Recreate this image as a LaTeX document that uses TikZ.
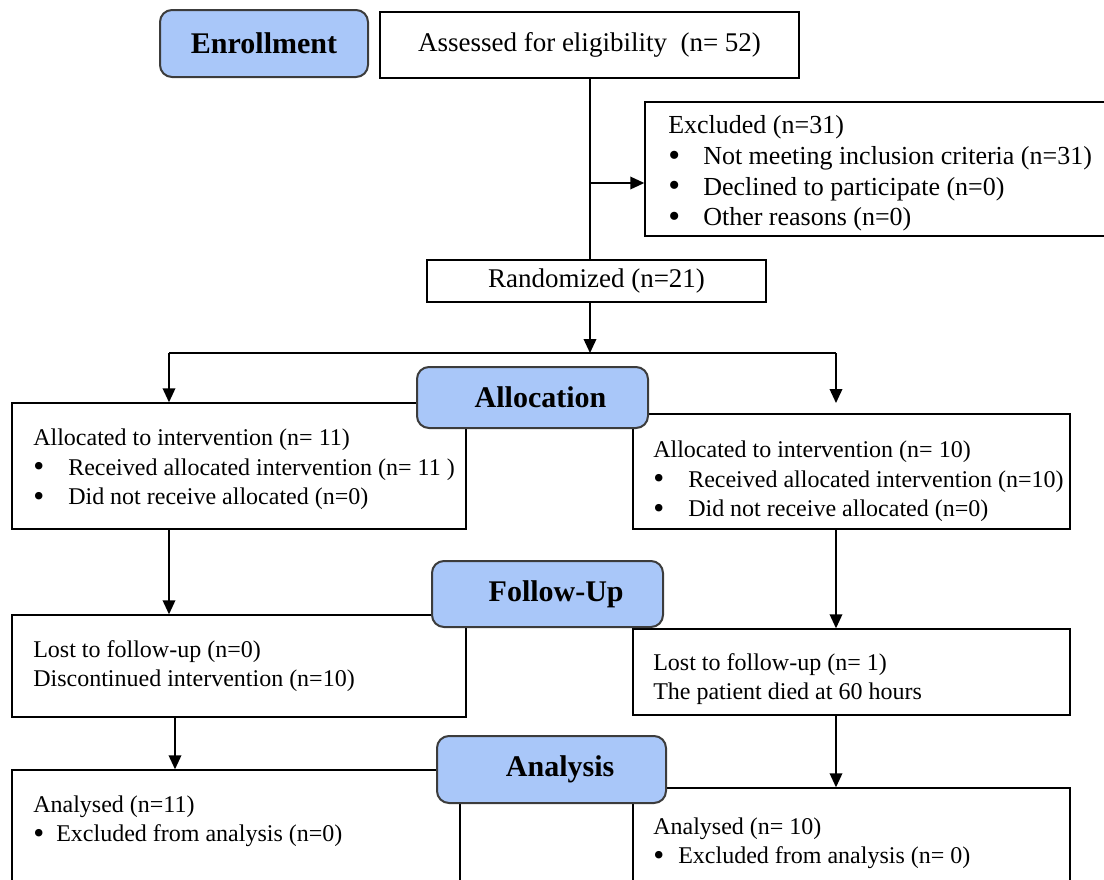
\documentclass[tikz,border=0pt]{standalone}
\usepackage{fontspec}
\setmainfont{Liberation Serif}
\usepackage{xcolor}
\usetikzlibrary{arrows.meta}
\definecolor{hdrblue}{HTML}{A9C7F9}
\definecolor{hdrline}{HTML}{3C3C3C}
\newcommand{\blt}[1]{\makebox[#1][l]{\raisebox{-1.2pt}{\scalebox{1.3}{\textbullet}}}}
\newcommand{\bodyfont}{\fontsize{18}{22}\selectfont}
\tikzset{
  flowbox/.style  = {draw,line width=1.1pt,fill=white,inner sep=0pt},
  headbox/.style  = {draw=hdrline,line width=1.5pt,fill=hdrblue,rounded corners=9pt,
                     inner sep=0pt,font=\fontsize{22.5}{27}\selectfont\bfseries},
  boxtext/.style  = {anchor=west,inner sep=0pt,align=left,font=\bodyfont},
  flowline/.style = {line width=1.1pt},
  flowarr/.style  = {-{Triangle[length=10.5pt,width=9.5pt]},line width=1.1pt}
}

\begin{document}
\begin{tikzpicture}[x=0.75pt,y=-0.75pt]
  \useasboundingbox (0,0) rectangle (1104,879);
  \clip (0,0) rectangle (1104,879);
  \node[flowbox,minimum width=314.25pt,minimum height=49.5pt,font=\fontsize{20.25}{24}\selectfont]
    (assess) at (589.5,45) {\raisebox{-2pt}{Assessed for eligibility~ (n= 52)}};
  \node[flowbox,minimum width=352.5pt,minimum height=100.5pt] (excl) at (880,169) {};
  \node[flowbox,minimum width=254.25pt,minimum height=31.5pt,font=\fontsize{20.25}{24}\selectfont]
    (rand) at (596.5,281) {Randomized (n=21)};
  \node[flowbox,minimum width=340.5pt,minimum height=94.5pt] (alloL) at (239,466) {};
  \node[flowbox,minimum width=327.75pt,minimum height=86.25pt] (alloR) at (851.5,471.5) {};
  \node[flowbox,minimum width=340.5pt,minimum height=76.5pt] (fupL) at (239,666) {};
  \node[flowbox,minimum width=327.75pt,minimum height=64.5pt] (fupR) at (851.5,672) {};
  \node[flowbox,minimum width=336pt,minimum height=97.5pt] (analL) at (236,835) {};
  \node[flowbox,minimum width=327.75pt,minimum height=84pt] (analR) at (851.5,844) {};

  \coordinate (brk) at (590,183);
  \coordinate (split) at (590,353);
  \coordinate (splitL) at (169,353);
  \coordinate (splitR) at (836,353);
  \coordinate (tipR) at (836,403);
  \coordinate (colL) at (175,717);
  \draw[flowline] (assess.south -| split) -- (rand.north -| split);
  \draw[flowarr] (brk) -- (brk -| excl.west);
  \draw[flowarr] (rand.south -| split) -- (split);
  \draw[flowline] (splitL) -- (splitR);
  \draw[flowarr] (splitL) -- (splitL |- alloL.north);
  \draw[flowarr] (splitR) -- (tipR);
  \draw[flowarr] (splitL |- alloL.south) -- (splitL |- fupL.north);
  \draw[flowarr] (splitR |- alloR.south) -- (splitR |- fupR.north);
  \draw[flowarr] (colL |- fupL.south) -- (colL |- analL.north);
  \draw[flowarr] (splitR |- fupR.south) -- (splitR |- analR.north);

  \node[headbox,minimum width=156pt,minimum height=50.25pt] (enrol) at (264,43.5) {Enrollment};
  \node[headbox,minimum width=173.25pt,minimum height=45.75pt] (alloc) at (532.5,397.5) {\hspace*{12pt}Allocation};
  \node[headbox,minimum width=173.25pt,minimum height=49.5pt] (fup) at (547.5,594) {\hspace*{13pt}Follow-Up};
  \node[headbox,minimum width=171.75pt,minimum height=50.25pt] (anal) at (551.5,769.5) {\hspace*{13pt}Analysis};

  \node[boxtext,font=\fontsize{19.5}{23}\selectfont] (exclT) at (668,173.5)
    {Excluded (n=31)\\\blt{26.25pt}Not meeting inclusion criteria (n=31)\\\blt{26.25pt}Declined to participate (n=0)\\\blt{26.25pt}Other reasons (n=0)};
  \node[boxtext] (alloLT) at (33,469.5)
    {Allocated to intervention (n= 11)\\\blt{26.25pt}Received allocated intervention (n= 11 )\\\blt{26.25pt}Did not receive allocated (n=0)};
  \node[boxtext] (alloRT) at (653,481.5)
    {Allocated to intervention (n= 10)\\\blt{26.25pt}Received allocated intervention (n=10)\\\blt{26.25pt}Did not receive allocated (n=0)};
  \node[boxtext] (fupLT) at (33,666)
    {Lost to follow-up (n=0)\\Discontinued intervention (n=10)};
  \node[boxtext] (fupRT) at (653,679)
    {Lost to follow-up (n= 1)\\The patient died at 60 hours};
  \node[boxtext] (analLT) at (33,821)
    {Analysed (n=11)\\\blt{17.25pt}Excluded from analysis (n=0)};
  \node[boxtext] (analRT) at (653,843)
    {Analysed (n= 10)\\\blt{18.75pt}Excluded from analysis (n= 0)};
\end{tikzpicture}
\end{document}
